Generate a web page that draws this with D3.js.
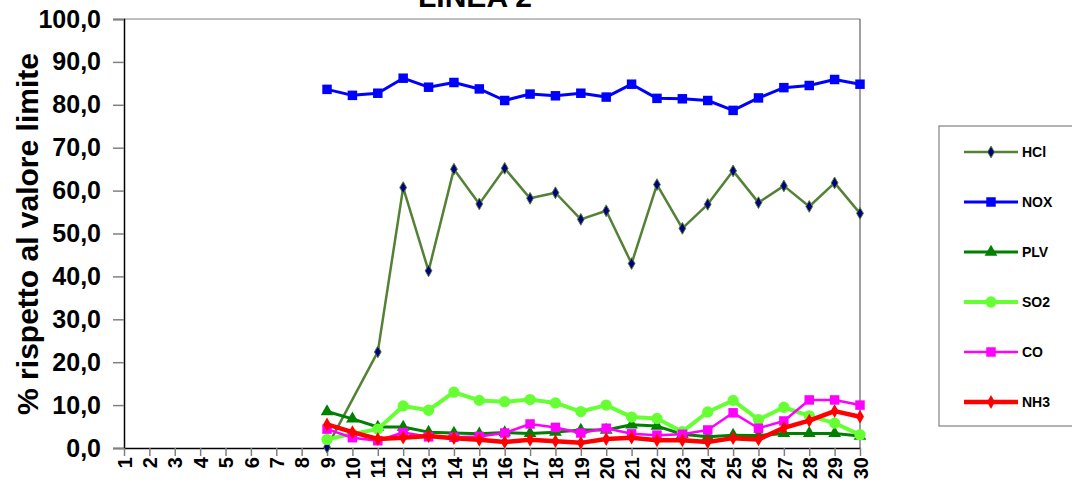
<!DOCTYPE html>
<html><head><meta charset="utf-8">
<script src="https://cdn.jsdelivr.net/npm/d3@7"></script>
<style>body{margin:0;background:#fff;font-family:Arial,"Liberation Sans",sans-serif;}</style>
</head><body><svg id="c" width="1072" height="488"></svg>
<script>
const days = d3.range(1, 31);
const yTicks = [0,10,20,30,40,50,60,70,80,90,100];
const N8 = [null,null,null,null,null,null,null,null];
const HCl = N8.concat([0.2,null,22.4,60.7,41.3,65.0,56.9,65.2,58.2,59.5,53.3,55.3,43.0,61.4,51.2,56.8,64.6,57.2,61.1,56.3,61.8,54.7]);
const NOX = N8.concat([83.6,82.2,82.7,86.2,84.1,85.2,83.7,81.0,82.5,82.1,82.7,81.8,84.8,81.5,81.4,81.0,78.7,81.6,84.0,84.5,85.9,84.8]);
const PLV = N8.concat([8.5,6.8,4.9,4.9,3.7,3.5,3.3,3.6,3.4,3.7,4.2,4.2,5.4,5.1,3.2,2.6,3.0,2.9,3.4,3.4,3.4,2.8]);
const SO2 = N8.concat([2.0,3.3,4.4,9.8,8.8,13.0,11.1,10.8,11.3,10.5,8.5,10.0,7.2,6.9,3.8,8.4,11.1,6.6,9.5,7.5,5.8,3.1]);
const CO  = N8.concat([4.4,2.4,1.7,3.6,2.6,2.5,2.7,3.5,5.6,4.8,3.5,4.6,3.3,3.0,3.2,4.2,8.2,4.6,6.3,11.2,11.2,10.0]);
const NH3 = N8.concat([5.5,3.7,2.1,2.4,2.8,2.3,1.9,1.4,1.9,1.6,1.2,2.1,2.4,1.8,1.8,1.4,2.3,2.0,4.7,6.4,8.6,7.3]);
const legendLabels = ["HCl","NOX","PLV","SO2","CO","NH3"];
const seriesValues = [HCl,NOX,PLV,SO2,CO,NH3];
const styles = [
  {line:"#538135", w:2.5, sym:d3.symbolDiamond, size:40, fill:"#000080", stroke:"#538135", sw:1},
  {line:"#0000ff", w:3, sym:d3.symbolSquare, size:90, fill:"#0000ff", stroke:"none", sw:0},
  {line:"#008000", w:3, sym:d3.symbolTriangle, size:70, fill:"#008000", stroke:"none", sw:0},
  {line:"#66ff33", w:4, sym:d3.symbolCircle, size:100, fill:"#66ff33", stroke:"none", sw:0},
  {line:"#ff00ff", w:2.5, sym:d3.symbolSquare, size:90, fill:"#ff00ff", stroke:"none", sw:0},
  {line:"#ff0000", w:4.5, sym:d3.symbolDiamond, size:55, fill:"#ff0000", stroke:"none", sw:0}
];

const svg = d3.select("#c");
const x = d3.scalePoint().domain(days).range([124, 860]);
const y = d3.scaleLinear().domain([0, 100]).range([448, 19]);

svg.append("line").attr("x1",124).attr("x2",860).attr("y1",19).attr("y2",19).attr("stroke","#808080").attr("stroke-width",1.2);
svg.append("line").attr("x1",860).attr("x2",860).attr("y1",19).attr("y2",448).attr("stroke","#606060").attr("stroke-width",1.2);

const ya = svg.append("g").attr("transform","translate(124,0)")
  .call(d3.axisLeft(y).tickValues(yTicks).tickSize(11).tickFormat(d => d3.format(".1f")(d).replace(".", ",")));
ya.select(".domain").attr("stroke","#000").attr("stroke-width",1.5);
ya.selectAll(".tick line").attr("stroke","#808080").attr("stroke-width",1.5);
ya.selectAll(".tick text").attr("x",-23).attr("font-size","25px").attr("font-weight","bold").attr("fill","#000")
  .attr("font-family","Arial, 'Liberation Sans', sans-serif");

const xa = svg.append("g").attr("transform","translate(0,448)")
  .call(d3.axisBottom(x).tickSize(8).tickSizeOuter(0));
xa.select(".domain").attr("stroke","#000").attr("stroke-width",1.5);
xa.selectAll(".tick line").attr("stroke","#808080").attr("stroke-width",1.5);
xa.selectAll(".tick text").attr("font-size","20px").attr("font-weight","bold").attr("fill","#000")
  .attr("font-family","Arial, 'Liberation Sans', sans-serif")
  .attr("text-anchor","end").attr("transform","rotate(-90)").attr("x",-9).attr("y",0).attr("dy","0.36em");

seriesValues.forEach((vals, i) => {
  const st = styles[i];
  const pts = days.map((d, j) => ({d, v: vals[j]})).filter(p => p.v !== null);
  svg.append("path").datum(pts)
    .attr("fill","none").attr("stroke",st.line).attr("stroke-width",st.w).attr("stroke-linejoin","round")
    .attr("d", d3.line().x(p => x(p.d)).y(p => y(p.v)));
  svg.append("g").selectAll("path").data(pts).join("path")
    .attr("transform", p => `translate(${x(p.d)},${y(p.v)})`)
    .attr("d", d3.symbol().type(st.sym).size(st.size))
    .attr("fill", st.fill).attr("stroke", st.stroke).attr("stroke-width", st.sw);
});

svg.append("text").attr("x",475).attr("y",7).attr("text-anchor","middle")
  .attr("font-size","30px").attr("font-weight","bold").text("LINEA 2");

svg.append("text").attr("transform","translate(38,234) rotate(-90)").attr("text-anchor","middle")
  .attr("font-size","30px").attr("font-weight","bold").text("% rispetto al valore limite");

svg.append("rect").attr("x",939).attr("y",126).attr("width",140).attr("height",300)
  .attr("fill","#fff").attr("stroke","#808080").attr("stroke-width",1.2);
const lg = svg.append("g");
legendLabels.forEach((name, i) => {
  const st = styles[i];
  const ly = 152 + i * 50;
  lg.append("line").attr("x1",964).attr("x2",1018).attr("y1",ly).attr("y2",ly)
    .attr("stroke",st.line).attr("stroke-width",st.w);
  lg.append("path").attr("transform",`translate(991,${ly})`)
    .attr("d", d3.symbol().type(st.sym).size(st.size))
    .attr("fill",st.fill).attr("stroke",st.stroke).attr("stroke-width",st.sw);
  lg.append("text").attr("x",1022).attr("y",ly).attr("dy","0.35em")
    .attr("font-size","14px").attr("font-weight","bold").text(name);
});
</script></body></html>
